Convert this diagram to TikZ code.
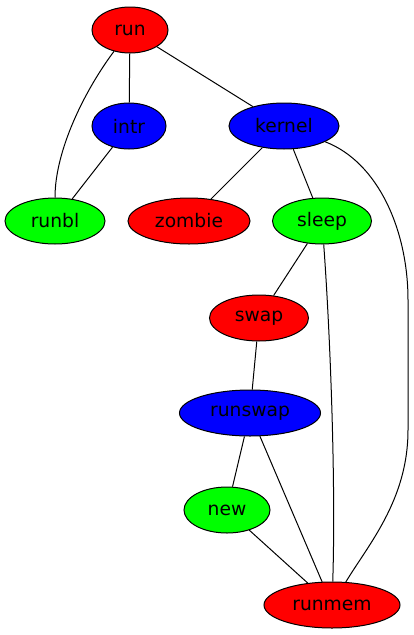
\documentclass[tikz,border=0pt]{standalone}
\usepackage{fontspec}
\setmainfont{DejaVu Sans}
\usetikzlibrary{shapes.geometric}
\definecolor{gvred}{RGB}{255,0,0}
\definecolor{gvblue}{RGB}{0,0,255}
\definecolor{gvgreen}{RGB}{0,255,0}
\tikzset{
  gv/.style={ellipse, draw=black, line width=1pt, minimum height=46pt, inner sep=0pt, font=\fontsize{18.7}{20}\selectfont},
  rn/.style={gv, fill=gvred},
  bn/.style={gv, fill=gvblue},
  gn/.style={gv, fill=gvgreen},
  edge/.style={draw=black, line width=1pt}
}
\begin{document}
\begin{tikzpicture}[x=1pt, y=-1pt]
\useasboundingbox (0,0) rectangle (414,635);
\node[rn, minimum width=76pt] (run) at (130,30) {run};
\node[bn, minimum width=74pt] (intr) at (129,126) {intr};
\node[bn, minimum width=110pt] (kernel) at (284,126) {kernel};
\node[gn, minimum width=100pt] (runbl) at (55,221) {runbl};
\node[rn, minimum width=122pt] (zombie) at (189,221) {zombie};
\node[gn, minimum width=99pt] (sleep) at (322,221) {sleep};
\node[rn, minimum width=99pt] (swap) at (259,318) {swap};
\node[bn, minimum width=141pt] (runswap) at (250,413) {runswap};
\node[gn, minimum width=86pt] (new) at (227,510) {new};
\node[rn, minimum width=136pt] (runmem) at (332,605) {runmem};
\coordinate (kr1) at (408,300);
\coordinate (kr2) at (408,430);
\draw[edge] (run) -- (intr);
\draw[edge] (run) -- (kernel);
\draw[edge] (intr) -- (runbl);
\draw[edge] (run) .. controls (85,90) and (55,150) .. (runbl);
\draw[edge] (kernel) -- (zombie);
\draw[edge] (kernel) -- (sleep);
\draw[edge] (kernel) .. controls (378,162) and (408,230) .. (kr1) -- (kr2) .. controls (408,500) and (368,545) .. (runmem);
\draw[edge] (sleep) -- (swap);
\draw[edge] (sleep) .. controls (330,330) and (336,480) .. (runmem);
\draw[edge] (swap) -- (runswap);
\draw[edge] (runswap) -- (new);
\draw[edge] (runswap) -- (runmem);
\draw[edge] (new) -- (runmem);
\end{tikzpicture}
\end{document}
